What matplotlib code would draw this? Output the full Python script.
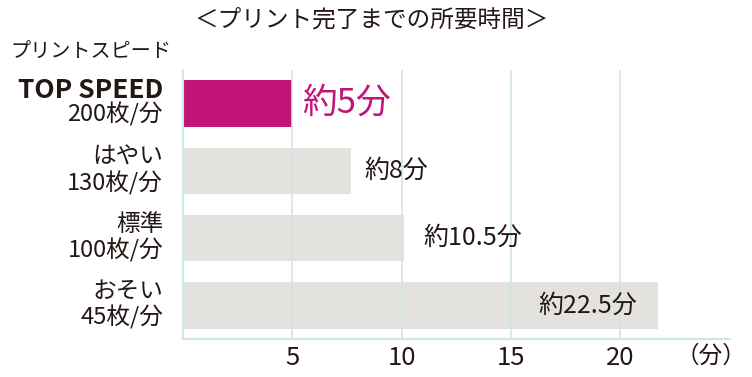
import matplotlib.pyplot as plt
from matplotlib.transforms import blended_transform_factory

plt.rcParams['font.family'] = ['Noto Sans CJK JP', 'DejaVu Sans']

# data
speed_names = ["TOP SPEED", "はやい", "標準", "おそい"]
speed_rates = ["200枚/分", "130枚/分", "100枚/分", "45枚/分"]
bar_minutes = [5.0, 7.7, 10.1, 21.7]
value_labels = ["約5分", "約8分", "約10.5分", "約22.5分"]
xticks = [5, 10, 15, 20]

text_col = "#231815"
grid_col = "#cfe6e4"
bar_cols = ["#c1157a", "#e3e2df", "#e3e2df", "#e3e2df"]

fig = plt.figure(figsize=(7.52, 3.77), dpi=100)
ax = fig.add_axes([0.2434, 0.1008, 0.727, 0.7135])

ypos = list(range(len(bar_minutes)))
ax.barh(ypos, bar_minutes, height=0.69, color=bar_cols, zorder=1)

ax.set_xlim(0, 25)
ax.set_ylim(3.5, -0.5)
for x in xticks:
    ax.axvline(x, color=grid_col, lw=1.2, zorder=2)

for s in ["top", "right"]:
    ax.spines[s].set_visible(False)
for s in ["left", "bottom"]:
    ax.spines[s].set_color(grid_col)
    ax.spines[s].set_linewidth(1.5)

ax.set_yticks([])
ax.set_xticks(xticks)
ax.set_xticklabels([str(x) for x in xticks], fontsize=18.5, color=text_col)
ax.tick_params(axis="x", length=0, pad=4)

# value labels (offsets in pixels)
offsets = [10, 13, 20, -20]
for i, (v, lab) in enumerate(zip(bar_minutes, value_labels)):
    off = offsets[i] * 0.72
    if i == 0:
        ax.annotate(lab, (v, i), xytext=(off, 0), textcoords="offset points",
                    ha="left", va="center", fontsize=25, color=bar_cols[0])
    elif off < 0:
        ax.annotate(lab, (v, i), xytext=(off, 0), textcoords="offset points",
                    ha="right", va="center", fontsize=18, color=text_col)
    else:
        ax.annotate(lab, (v, i), xytext=(off, 0), textcoords="offset points",
                    ha="left", va="center", fontsize=18, color=text_col)

# category labels on the left
tr = blended_transform_factory(ax.transAxes, ax.transData)
lx = -20 / 546.7
for i, (name, rate) in enumerate(zip(speed_names, speed_rates)):
    if i == 0:
        ax.text(lx, i - 0.2, name, transform=tr, ha="right", va="center",
                fontsize=19, fontweight="bold", color=text_col)
        ax.text(lx, i + 0.16, rate, transform=tr, ha="right", va="center",
                fontsize=17, color=text_col)
    else:
        ax.text(lx, i - 0.21, name, transform=tr, ha="right", va="center",
                fontsize=17, color=text_col)
        ax.text(lx, i + 0.18, rate, transform=tr, ha="right", va="center",
                fontsize=17, color=text_col)

fig.text(10 / 752, 1 - 52 / 377, "プリントスピード", ha="left", va="center",
         fontsize=14.5, color=text_col)
fig.text(372 / 752, 1 - 20 / 377, "＜プリント完了までの所要時間＞", ha="center", va="center",
         fontsize=17, color=text_col)
fig.text(746 / 752, 1 - 356 / 377, "（分）", ha="right", va="center",
         fontsize=17, color=text_col)

fig.savefig("out.png", dpi=100)
